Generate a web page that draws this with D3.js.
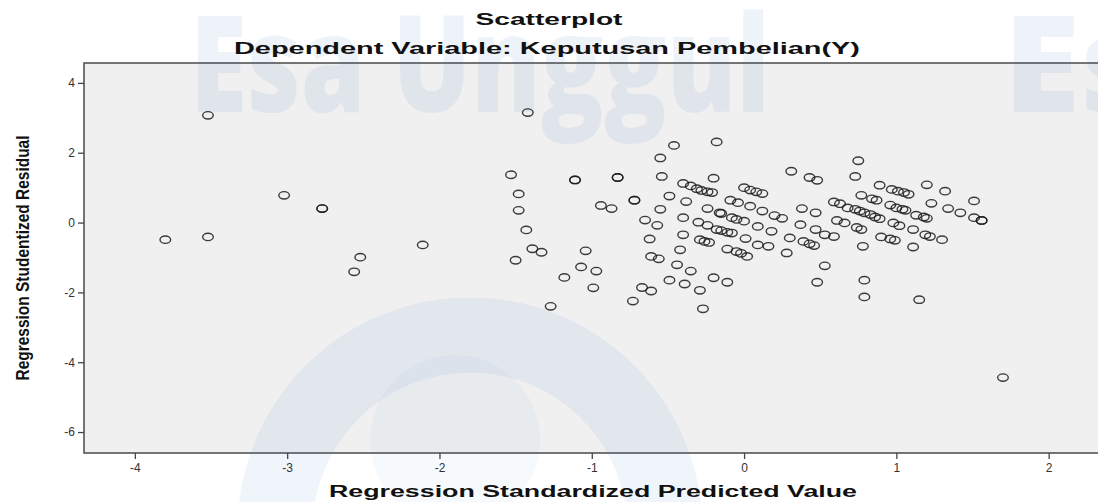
<!DOCTYPE html>
<html>
<head>
<meta charset="utf-8">
<script src="https://cdnjs.cloudflare.com/ajax/libs/d3/7.8.5/d3.min.js"></script>
<style>
  body { margin: 0; background: #fff; }
  svg { display: block; }
</style>
</head>
<body>
<div class="chart"></div>
<script>
// predicted value (x) and studentized residual (y)
var predicted = [
  -3.80, -3.52, -3.52, -3.02, -2.77, -2.77, -2.52, -2.56, -2.11,
  -1.42, -1.53, -1.48, -1.48, -1.43, -1.39, -1.33, -1.50, -1.11, -1.11,
  -0.83, -0.83, -0.94, -0.87, -0.72, -0.72, -1.04, -1.07, -0.97, -1.18,
  -0.99, -1.27, -0.67, -0.61, -0.73, -0.55, -0.46, -0.18, -0.54, -0.20,
  -0.40, -0.35, -0.31, -0.28, -0.24, -0.21, 0.00, 0.04, 0.08, 0.12,
  -0.49, -0.38, -0.09, -0.04, 0.04, 0.12, -0.55, -0.24, -0.16, -0.15,
  -0.65, -0.57, -0.40, -0.30, -0.24, -0.08, -0.05, 0.00, 0.09,
  -0.62, -0.40, -0.29, -0.26, -0.23, -0.18, -0.15, -0.11, -0.08, 0.01,
  -0.42, -0.11, -0.05, -0.02, 0.02, 0.09, -0.61, -0.56, -0.44, -0.35,
  -0.49, -0.39, -0.29, -0.20, -0.11, -0.27,
  0.31, 0.43, 0.48, 0.73, 0.75, 0.89, 0.77, 0.84, 0.87,
  0.20, 0.25, 0.38, 0.47, 0.59, 0.63, 0.68, 0.73, 0.76, 0.79, 0.83, 0.86, 0.89,
  0.18, 0.37, 0.47, 0.61, 0.66, 0.74, 0.77, 0.53, 0.59,
  0.30, 0.39, 0.43, 0.46, 0.16, 0.28, 0.78, 0.90,
  1.20, 1.32, 1.51, 0.97, 1.01, 1.05, 1.08, 1.23, 1.34, 1.42, 1.51, 1.56, 1.56,
  0.96, 1.00, 1.04, 1.06, 1.13, 1.18, 1.20, 0.98, 1.02, 1.11, 1.19, 1.22, 1.30,
  0.96, 0.99, 1.11,
  0.53, 0.48, 0.79, 0.79, 1.15, 1.70
];
var residual = [
  -0.49, 3.07, -0.41, 0.78, 0.40, 0.40, -0.99, -1.41, -0.64,
  3.15, 1.37, 0.82, 0.35, -0.21, -0.75, -0.85, -1.08, 1.22, 1.22,
  1.29, 1.29, 0.49, 0.40, 0.64, 0.64, -0.81, -1.27, -1.39, -1.57,
  -1.87, -2.40, -1.86, -1.96, -2.25, 1.85, 2.21, 2.31, 1.32, 1.27,
  1.12, 1.05, 0.97, 0.92, 0.88, 0.86, 1.00, 0.93, 0.88, 0.83,
  0.76, 0.60, 0.64, 0.57, 0.47, 0.33, 0.38, 0.40, 0.28, 0.26,
  0.07, -0.08, 0.14, 0.01, -0.08, 0.14, 0.09, 0.04, -0.11,
  -0.47, -0.35, -0.49, -0.54, -0.57, -0.20, -0.23, -0.28, -0.30, -0.46,
  -0.78, -0.76, -0.83, -0.88, -0.97, -0.64, -0.97, -1.04, -1.21, -1.39,
  -1.65, -1.76, -1.94, -1.58, -1.71, -2.47,
  1.47, 1.29, 1.21, 1.32, 1.77, 1.07, 0.78, 0.68, 0.64,
  0.20, 0.12, 0.40, 0.28, 0.59, 0.54, 0.42, 0.38, 0.33, 0.28, 0.23, 0.16, 0.11,
  -0.25, -0.06, -0.20, 0.06, -0.01, -0.14, -0.20, -0.35, -0.40,
  -0.44, -0.54, -0.61, -0.66, -0.68, -0.87, -0.68, -0.41,
  1.08, 0.90, 0.62, 0.95, 0.90, 0.86, 0.81, 0.55, 0.40, 0.28, 0.14, 0.06, 0.06,
  0.50, 0.42, 0.38, 0.35, 0.21, 0.16, 0.12, -0.01, -0.09, -0.20, -0.35, -0.40, -0.49,
  -0.47, -0.51, -0.70,
  -1.24, -1.71, -1.65, -2.13, -2.21, -4.44
];
var xTicks = [-4, -3, -2, -1, 0, 1, 2];
var yTicks = [-6, -4, -2, 0, 2, 4];

var width = 1098, height = 502;
var plotLeft = 84, plotTop = 63, plotBottom = 453;

var svg = d3.select(".chart")
    .append("svg")
    .attr("width", width)
    .attr("height", height);

var x = d3.scaleLinear().domain([-4.334, 2.40]).range([plotLeft, plotLeft + 6.734 * 152.3]);
var y = d3.scaleLinear().domain([-6.6, 4.57]).range([plotBottom, plotTop]);

// plot background
svg.append("rect")
    .attr("x", plotLeft)
    .attr("y", plotTop)
    .attr("width", 1120 - plotLeft)
    .attr("height", plotBottom - plotTop)
    .style("fill", "#f0f0f0")
    .style("stroke", "#4a4a4a")
    .style("stroke-width", 1.5);

// faint watermark of the source page
var wm = svg.append("g").style("pointer-events", "none");
wm.append("circle")
    .attr("cx", 470).attr("cy", 530).attr("r", 195)
    .style("fill", "none")
    .style("stroke", "#3d7cc9")
    .style("stroke-opacity", 0.08)
    .style("stroke-width", 75);
wm.append("circle")
    .attr("cx", 455).attr("cy", 440).attr("r", 85)
    .style("fill", "#3d7cc9")
    .style("fill-opacity", 0.04);
wm.append("text")
    .attr("x", 190).attr("y", 112)
    .attr("textLength", 580)
    .attr("lengthAdjust", "spacingAndGlyphs")
    .style("font-family", "'Open Sans', 'DejaVu Sans', sans-serif")
    .style("font-weight", "800")
    .style("font-size", "135px")
    .style("fill", "#3d7cc9")
    .style("fill-opacity", 0.09)
    .text("Esa Unggul");
wm.append("text")
    .attr("x", 1003).attr("y", 112)
    .attr("textLength", 150)
    .attr("lengthAdjust", "spacingAndGlyphs")
    .style("font-family", "'Open Sans', 'DejaVu Sans', sans-serif")
    .style("font-weight", "800")
    .style("font-size", "135px")
    .style("fill", "#3d7cc9")
    .style("fill-opacity", 0.09)
    .text("Es");

// points
var points = predicted.map(function(d, i) { return { x: d, y: residual[i] }; });

svg.append("g")
    .selectAll("ellipse")
    .data(points)
    .enter().append("ellipse")
    .attr("cx", function(d) { return x(d.x); })
    .attr("cy", function(d) { return y(d.y); })
    .attr("rx", 5.3)
    .attr("ry", 3.7)
    .style("fill", "none")
    .style("stroke", "#1a1a1a")
    .style("stroke-opacity", 0.85)
    .style("stroke-width", 1.4);

// axes
var fmt = function(d) { return String(d); };
var xAxis = svg.append("g")
    .attr("transform", "translate(0," + plotBottom + ")")
    .call(d3.axisBottom(x).tickValues(xTicks).tickSize(6).tickPadding(4).tickFormat(fmt));
var yAxis = svg.append("g")
    .attr("transform", "translate(" + plotLeft + ",0)")
    .call(d3.axisLeft(y).tickValues(yTicks).tickSize(6).tickPadding(3).tickFormat(fmt));

[xAxis, yAxis].forEach(function(a) {
    a.select(".domain").remove();
    a.selectAll("line").style("stroke", "#444").style("stroke-width", 1.3);
    a.selectAll("text")
        .style("font-family", "'Liberation Sans', Arial, sans-serif")
        .style("font-size", "12px")
        .style("fill", "#333");
});

// titles
function label(txt, px, py, len, size) {
    return svg.append("text")
        .attr("x", px).attr("y", py)
        .attr("text-anchor", "middle")
        .attr("textLength", len)
        .attr("lengthAdjust", "spacingAndGlyphs")
        .style("font-family", "'Liberation Sans', Arial, sans-serif")
        .style("font-weight", "bold")
        .style("font-size", size + "px")
        .style("fill", "#111")
        .text(txt);
}
label("Scatterplot", 549, 25, 147, 16);
label("Dependent Variable: Keputusan Pembelian(Y)", 547, 54, 626, 16);
label("Regression Standardized Predicted Value", 593, 497, 528, 16);
label("Regression Studentized Residual", 0, 0, 245, 19)
    .attr("transform", "translate(29,258) rotate(-90)");
</script>
</body>
</html>
